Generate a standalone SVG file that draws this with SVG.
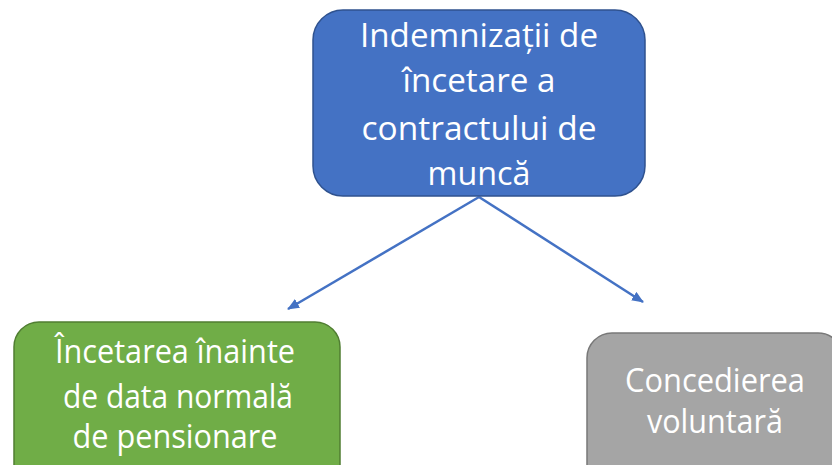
<svg xmlns="http://www.w3.org/2000/svg" width="832" height="465" viewBox="0 0 832 465">
<defs>
<style>
.t{font-family:"Open Sans","Liberation Sans",sans-serif;font-size:32px;fill:#ffffff;text-anchor:middle}
.c{stroke:#4472C4;stroke-width:2.5;fill:none}
</style>
<marker id="ah" viewBox="0 0 12 10" refX="11" refY="5" markerWidth="12" markerHeight="10" markerUnits="userSpaceOnUse" orient="auto">
<path d="M0,0 L12,5 L0,10 Z" fill="#4472C4"/>
</marker>
</defs>
<rect width="832" height="465" fill="#ffffff"/>
<g id="connectors">
<line class="c" x1="479" y1="197" x2="288" y2="309" marker-end="url(#ah)"/>
<line class="c" x1="479" y1="197" x2="643" y2="302" marker-end="url(#ah)"/>
</g>
<g id="root">
<rect x="313" y="10" width="332" height="186" rx="30" fill="#4472C4" stroke="#2F528F" stroke-width="1.5"/>
<text class="t" x="479" y="47" textLength="238" lengthAdjust="spacingAndGlyphs">Indemnizații de</text>
<text class="t" x="479" y="92" textLength="153" lengthAdjust="spacingAndGlyphs">încetare a</text>
<text class="t" x="479" y="140" textLength="235" lengthAdjust="spacingAndGlyphs">contractului de</text>
<text class="t" x="479" y="185" textLength="103" lengthAdjust="spacingAndGlyphs">muncă</text>
</g>
<g id="left">
<rect x="14" y="322" width="326" height="170" rx="25" fill="#70AD47" stroke="#507E32" stroke-width="1.5"/>
<text class="t" x="175" y="363" textLength="240" lengthAdjust="spacingAndGlyphs">Încetarea înainte</text>
<text class="t" x="178" y="408" textLength="230" lengthAdjust="spacingAndGlyphs">de data normală</text>
<text class="t" x="175" y="448" textLength="205" lengthAdjust="spacingAndGlyphs">de pensionare</text>
</g>
<g id="right">
<rect x="587" y="333" width="256" height="160" rx="25" fill="#A5A5A5" stroke="#787878" stroke-width="1.5"/>
<text class="t" x="715" y="392" textLength="180" lengthAdjust="spacingAndGlyphs">Concedierea</text>
<text class="t" x="715" y="433" textLength="136" lengthAdjust="spacingAndGlyphs">voluntară</text>
</g>
</svg>
